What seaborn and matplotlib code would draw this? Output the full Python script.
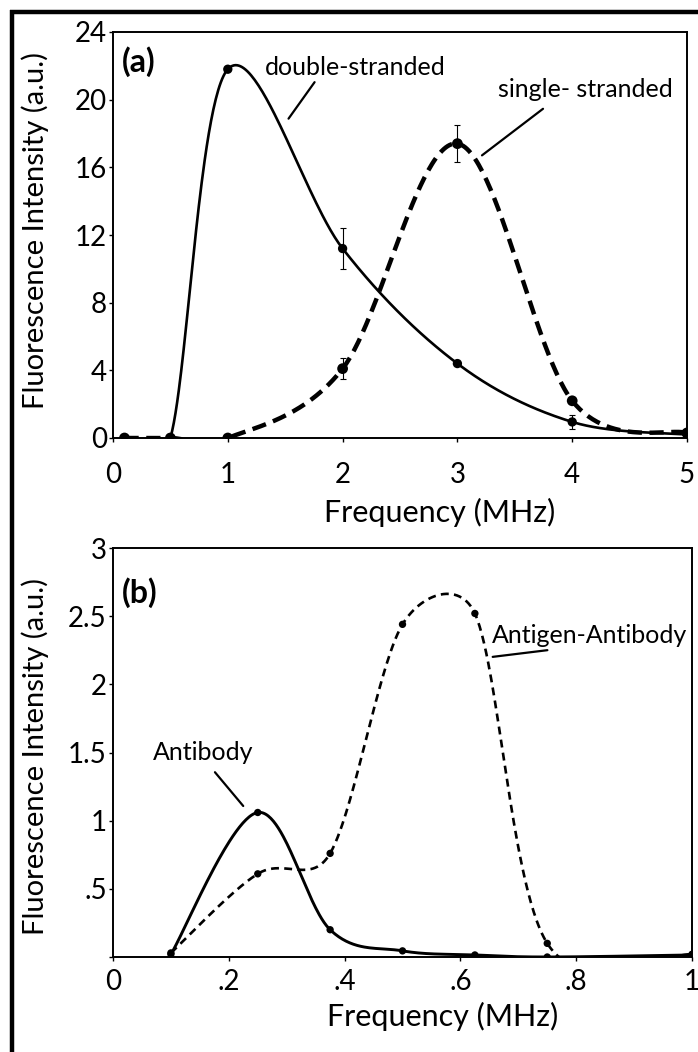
import numpy as np
import matplotlib
matplotlib.use("Agg")
import matplotlib.pyplot as plt
import seaborn as sns
from matplotlib.lines import Line2D

# ---------------- data ----------------
# Panel (a)
freq_a = [0.1, 0.5, 1, 2, 3, 4, 5]
double_stranded = [0, 0, 21.8, 11.2, 4.4, 0.95, 0.2]
double_err = [0, 0, 0, 1.2, 0, 0.4, 0]
single_stranded = [0, 0, 0, 4.1, 17.4, 2.2, 0.3]
single_err = [0, 0, 0, 0.6, 1.1, 0, 0]
xticks_a = [0, 1, 2, 3, 4, 5]
yticks_a = [0, 4, 8, 12, 16, 20, 24]

# Panel (b)
freq_b = [0.1, 0.25, 0.375, 0.5, 0.625, 0.75, 1.0]
antibody = [0.02, 1.06, 0.2, 0.045, 0.015, 0.0, 0.015]
antigen_antibody = [0.03, 0.61, 0.76, 2.44, 2.52, 0.1, 0.02]
xticks_b = [0, 0.2, 0.4, 0.6, 0.8, 1.0]
xticklabels_b = ["0", ".2", ".4", ".6", ".8", "1"]
yticks_b = [0, 0.5, 1, 1.5, 2, 2.5, 3]
yticklabels_b = ["", ".5", "1", "1.5", "2", "2.5", "3"]


def smooth(x, y, sx, sy, n=60):
    """Excel-style smoothed line: Bezier segments with Catmull-Rom control
    points (1/6 tension), control arms limited to half the segment length
    (measured in screen pixels; sx, sy = pixels per data unit)."""
    S = np.array([sx, sy], dtype=float)
    P = np.column_stack([x, y]).astype(float) * S
    m = len(P)
    out = [P[0]]
    t = np.linspace(0, 1, n)[1:, None]
    for i in range(m - 1):
        p0 = P[max(i - 1, 0)]
        p1 = P[i]
        p2 = P[i + 1]
        p3 = P[min(i + 2, m - 1)]
        seg_len = np.linalg.norm(p2 - p1)
        a1 = (p2 - p0) / 6
        a2 = (p3 - p1) / 6
        lim = 0.5 * seg_len
        if np.linalg.norm(a1) > lim:
            a1 = a1 / np.linalg.norm(a1) * lim
        if np.linalg.norm(a2) > lim:
            a2 = a2 / np.linalg.norm(a2) * lim
        c1 = p1 + a1
        c2 = p2 - a2
        seg = (1 - t) ** 3 * p1 + 3 * (1 - t) ** 2 * t * c1 + 3 * (1 - t) * t ** 2 * c2 + t ** 3 * p2
        out.extend(seg)
    out = np.array(out) / S
    return out[:, 0], out[:, 1]


sns.set_theme(style="ticks")
plt.rcParams["font.family"] = ["Lato", "DejaVu Sans"]
plt.rcParams["text.color"] = "black"
plt.rcParams["axes.labelcolor"] = "black"
plt.rcParams["xtick.color"] = "black"
plt.rcParams["ytick.color"] = "black"

W, H = 698, 1052
fig = plt.figure(figsize=(W / 100, H / 100), dpi=100)
fig.patch.set_facecolor("white")

ax_a = fig.add_axes([113 / W, 1 - 438 / H, 574 / W, 406 / H])
ax_b = fig.add_axes([113 / W, 1 - 957 / H, 579 / W, 409 / H])

TICK_FS = 20
YLABEL_FS = 21
XLABEL_FS = 22
ANN_FS = 18
PANEL_FS = 23

# pixel scales (px per data unit) used for the smoothing
sx_a, sy_a = 574 / 5, 406 / 24
sx_b, sy_b = 579 / 1, 409 / 3

# ---------------- panel (a) ----------------
xs, ys = smooth(freq_a, double_stranded, sx_a, sy_a)
sns.lineplot(x=xs, y=ys, sort=False, estimator=None, ax=ax_a, color="black", lw=1.9, zorder=3)
xs, ys = smooth(freq_a, single_stranded, sx_a, sy_a)
sns.lineplot(x=xs, y=ys, sort=False, estimator=None, ax=ax_a, color="black", lw=3.2,
             linestyle=(0, (3.2, 1.7)), zorder=3)
sns.scatterplot(x=freq_a, y=double_stranded, ax=ax_a, color="black", s=45, edgecolor="none", zorder=5)
sns.scatterplot(x=freq_a, y=single_stranded, ax=ax_a, color="black", s=60, edgecolor="none", zorder=5)
ax_a.errorbar(freq_a, double_stranded, yerr=double_err, fmt="none", ecolor="black",
              elinewidth=0.8, capsize=2.5, capthick=0.8, zorder=4)
ax_a.errorbar(freq_a, single_stranded, yerr=single_err, fmt="none", ecolor="black",
              elinewidth=0.8, capsize=2.5, capthick=0.8, zorder=4)

ax_a.set_xlim(0, 5)
ax_a.set_ylim(0, 24)
ax_a.set_xticks(xticks_a)
ax_a.set_yticks(yticks_a)
ax_a.tick_params(axis="x", labelsize=TICK_FS, length=3, width=1, pad=14)
ax_a.tick_params(axis="y", labelsize=TICK_FS, length=3, width=1, pad=1.5)
ax_a.set_xlabel("Frequency (MHz)", fontsize=XLABEL_FS)
ax_a.set_ylabel("Fluorescence Intensity (a.u.)", fontsize=YLABEL_FS)
ax_a.xaxis.set_label_coords((440 - 113) / 574, -(498 - 438) / 406)
ax_a.yaxis.set_label_coords((49 - 113) / 574, 0.51)

ax_a.text(0.016, 0.926, "(a)", transform=ax_a.transAxes, fontsize=PANEL_FS, fontweight="bold",
          ha="left", va="center")
ax_a.text(0.265, 0.894, "double-stranded", transform=ax_a.transAxes, fontsize=ANN_FS,
          ha="left", va="baseline")
ax_a.annotate("", xy=(0.303, 0.781), xytext=(0.354, 0.882), xycoords="axes fraction",
              textcoords="axes fraction", arrowprops=dict(arrowstyle="-", lw=1.6, color="black"))
ax_a.text(0.671, 0.840, "single- stranded", transform=ax_a.transAxes, fontsize=ANN_FS,
          ha="left", va="baseline")
ax_a.annotate("", xy=(0.639, 0.692), xytext=(0.753, 0.815), xycoords="axes fraction",
              textcoords="axes fraction", arrowprops=dict(arrowstyle="-", lw=1.6, color="black"))

# ---------------- panel (b) ----------------
xs, ys = smooth(freq_b, antibody, sx_b, sy_b)
sns.lineplot(x=xs, y=ys, sort=False, estimator=None, ax=ax_b, color="black", lw=2.1, zorder=3)
xs, ys = smooth(freq_b, antigen_antibody, sx_b, sy_b)
sns.lineplot(x=xs, y=ys, sort=False, estimator=None, ax=ax_b, color="black", lw=1.9,
             linestyle=(0, (3.0, 2.0)), zorder=3)
sns.scatterplot(x=freq_b, y=antibody, ax=ax_b, color="black", s=28, edgecolor="none", zorder=5)
sns.scatterplot(x=freq_b, y=antigen_antibody, ax=ax_b, color="black", s=28, edgecolor="none", zorder=5)

ax_b.set_xlim(0, 1)
ax_b.set_ylim(0, 3)
ax_b.set_xticks(xticks_b)
ax_b.set_xticklabels(xticklabels_b)
ax_b.set_yticks(yticks_b)
ax_b.set_yticklabels(yticklabels_b)
ax_b.tick_params(axis="x", labelsize=TICK_FS, length=3, width=1, pad=6)
ax_b.tick_params(axis="y", labelsize=TICK_FS, length=3, width=1, pad=1.5)
ax_b.set_xlabel("Frequency (MHz)", fontsize=XLABEL_FS)
ax_b.set_ylabel("Fluorescence Intensity (a.u.)", fontsize=YLABEL_FS)
ax_b.xaxis.set_label_coords((443 - 113) / 579, -(1002 - 957) / 409)
ax_b.yaxis.set_label_coords((49 - 113) / 579, 0.49)

ax_b.text(0.016, 0.892, "(b)", transform=ax_b.transAxes, fontsize=PANEL_FS, fontweight="bold",
          ha="left", va="center")
ax_b.text(0.069, 0.482, "Antibody", transform=ax_b.transAxes, fontsize=ANN_FS,
          ha="left", va="baseline")
ax_b.annotate("", xy=(0.228, 0.364), xytext=(0.173, 0.457), xycoords="axes fraction",
              textcoords="axes fraction", arrowprops=dict(arrowstyle="-", lw=1.6, color="black"))
ax_b.text(0.655, 0.768, "Antigen-Antibody", transform=ax_b.transAxes, fontsize=ANN_FS,
          ha="left", va="baseline")
ax_b.annotate("", xy=(0.651, 0.733), xytext=(0.755, 0.751), xycoords="axes fraction",
              textcoords="axes fraction", arrowprops=dict(arrowstyle="-", lw=1.6, color="black"))

for ax in (ax_a, ax_b):
    for sp in ax.spines.values():
        sp.set_visible(True)
        sp.set_color("black")
        sp.set_linewidth(1.4)

# figure frame (top and left thick border)
fig.add_artist(Line2D([10 / W, 1.0], [1 - 11.5 / H, 1 - 11.5 / H], transform=fig.transFigure,
                      color="black", lw=3.2, solid_capstyle="butt"))
fig.add_artist(Line2D([12 / W, 12 / W], [1 - 10 / H, 0.0], transform=fig.transFigure,
                      color="black", lw=3.2, solid_capstyle="butt"))

fig.savefig("out.png", dpi=100, facecolor="white")
